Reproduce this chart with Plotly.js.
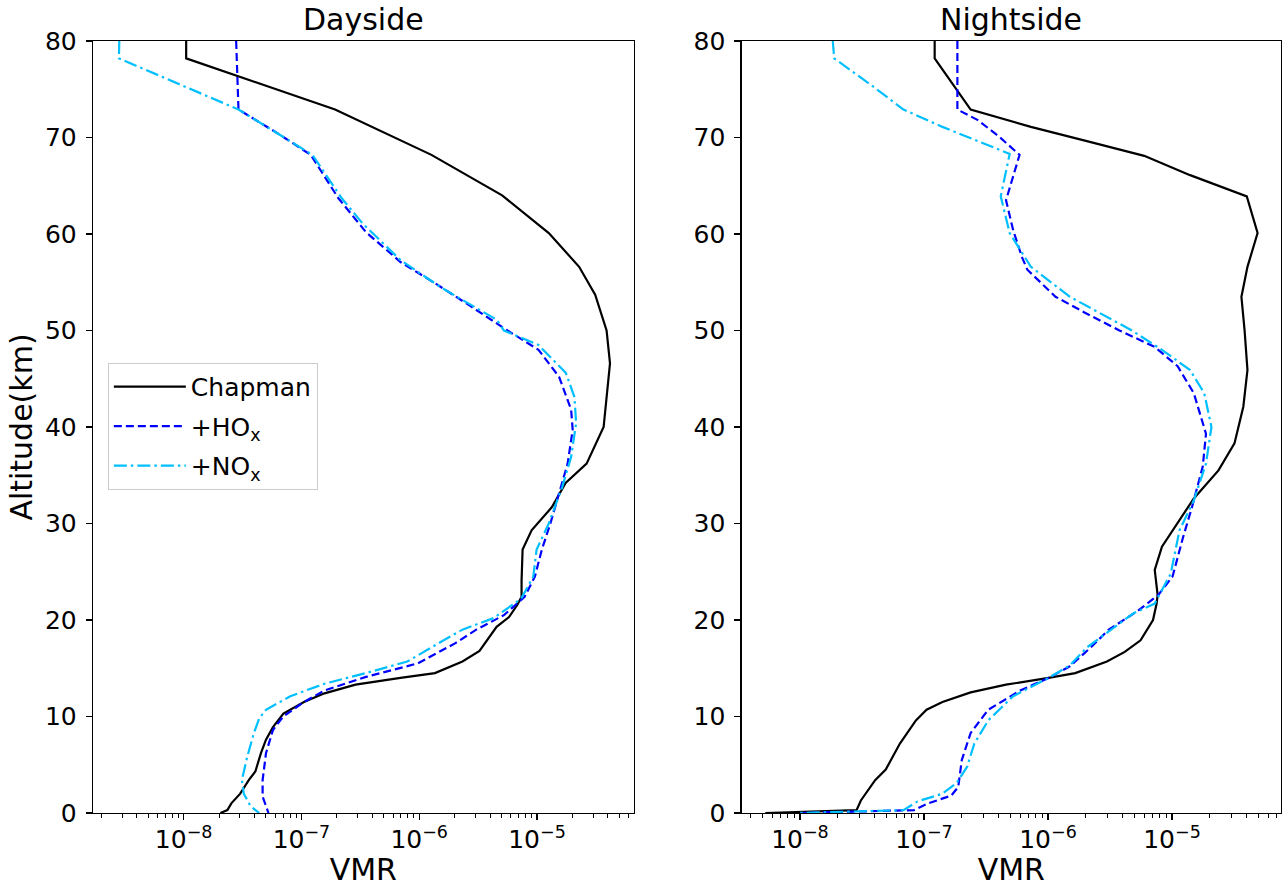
<!DOCTYPE html>
<html>
<head>
<meta charset="utf-8">
<script src="https://cdn.plot.ly/plotly-3.0.1.min.js"></script>
<style>html,body{margin:0;padding:0;background:#fff;}#chart{width:1288px;height:887px;}</style>
</head>
<body>
<div id="chart"></div>
<script>
// ---------------- Dayside ----------------
var dayChapAlt = [80, 78.2, 72.9, 68.2, 64.0, 60.1, 56.6, 53.7, 50.0, 46.6, 40.0, 36.2, 34.2, 31.7, 29.3, 27.3, 24.1, 22.4, 21.6, 20.3, 19.3, 18.1, 16.8, 15.7, 14.5, 14.0, 13.3, 12.4, 11.5, 10.3, 8.9, 7.6, 6.2, 4.3, 3.4, 2.0, 1.0, 0.3, 0.0];
var dayChapVmr = [1.05e-8, 1.05e-8, 1.93e-7, 1.27e-6, 5.06e-6, 1.26e-5, 2.28e-5, 3.12e-5, 3.90e-5, 4.17e-5, 3.68e-5, 2.64e-5, 1.75e-5, 1.34e-5, 9.0e-6, 7.55e-6, 7.4e-6, 7.4e-6, 6.84e-6, 5.79e-6, 4.54e-6, 3.86e-6, 3.25e-6, 2.33e-6, 1.36e-6, 6.93e-7, 2.88e-7, 1.57e-7, 1.05e-7, 7.03e-8, 5.73e-8, 5.0e-8, 4.53e-8, 4.06e-8, 3.57e-8, 3.02e-8, 2.54e-8, 2.35e-8, 2.05e-8];

var dayHoxAlt = [80, 72.9, 70.4, 68.2, 63.7, 60.2, 57.1, 54.9, 52.6, 50.0, 48.0, 45.2, 41.8, 39.7, 36.2, 33.1, 30.0, 27.3, 24.5, 22.4, 20.5, 19.0, 17.6, 15.5, 14.1, 12.7, 11.5, 10.0, 8.6, 6.2, 3.4, 1.7, 0.8, 0.0];
var dayHoxVmr = [2.79e-8, 2.92e-8, 6.34e-8, 1.20e-7, 2.06e-7, 3.53e-7, 6.93e-7, 1.36e-6, 2.67e-6, 5.62e-6, 1.03e-5, 1.54e-5, 1.95e-5, 2.01e-5, 1.82e-5, 1.54e-5, 1.30e-5, 1.10e-5, 9.6e-6, 7.85e-6, 5.24e-6, 3.05e-6, 2.03e-6, 9.7e-7, 3.53e-7, 1.57e-7, 1.05e-7, 7.0e-8, 5.73e-8, 5.0e-8, 4.68e-8, 4.68e-8, 5.0e-8, 5.25e-8];

var dayNoxAlt = [80, 78.2, 72.9, 70.4, 68.2, 63.7, 61.1, 57.3, 54.4, 51.1, 50.0, 48.5, 45.6, 43.1, 40.4, 36.9, 33.8, 30.0, 27.3, 24.5, 22.2, 20.2, 19.0, 17.8, 15.7, 14.5, 13.4, 12.1, 10.7, 9.8, 8.3, 5.8, 3.4, 2.0, 0.7, 0.0];
var dayNoxVmr = [2.84e-9, 2.82e-9, 2.92e-8, 6.34e-8, 1.24e-7, 2.20e-7, 3.30e-7, 6.93e-7, 1.56e-6, 4.57e-6, 5.24e-6, 1.03e-5, 1.76e-5, 2.08e-5, 2.15e-5, 1.95e-5, 1.64e-5, 1.26e-5, 9.93e-6, 9.3e-6, 7.33e-6, 4.28e-6, 2.33e-6, 1.56e-6, 7.93e-7, 3.53e-7, 1.57e-7, 8.04e-8, 5.0e-8, 4.38e-8, 3.95e-8, 3.46e-8, 3.12e-8, 3.24e-8, 3.70e-8, 4.38e-8];

// ---------------- Nightside ----------------
var nightChapAlt = [80, 78.2, 72.9, 71.1, 69.7, 68.1, 66.1, 63.9, 60.1, 56.6, 53.5, 50.0, 45.9, 42.1, 38.3, 35.5, 32.6, 30.4, 27.6, 25.2, 22.6, 21.7, 20.0, 17.9, 16.7, 15.7, 14.5, 14.0, 13.3, 12.5, 11.5, 10.7, 9.6, 7.2, 4.5, 3.4, 1.3, 0.3, 0.0];
var nightChapVmr = [1.22e-7, 1.22e-7, 2.38e-7, 7.28e-7, 1.95e-6, 5.97e-6, 1.40e-5, 4.01e-5, 4.90e-5, 4.06e-5, 3.63e-5, 3.85e-5, 4.06e-5, 3.76e-5, 3.19e-5, 2.37e-5, 1.50e-5, 1.15e-5, 8.3e-6, 7.26e-6, 7.66e-6, 7.52e-6, 7.03e-6, 5.58e-6, 4.16e-6, 2.99e-6, 1.66e-6, 1.01e-6, 4.59e-7, 2.38e-7, 1.41e-7, 1.05e-7, 8.61e-8, 6.40e-8, 4.92e-8, 4.04e-8, 3.10e-8, 2.86e-8, 5.26e-9];

var nightHoxAlt = [80, 72.9, 71.8, 70.1, 68.2, 63.5, 60.4, 57.6, 56.3, 53.5, 51.9, 50.0, 48.3, 46.3, 43.5, 39.3, 35.9, 31.7, 28.6, 24.5, 22.6, 20.9, 19.0, 17.2, 15.2, 14.0, 12.7, 10.7, 8.3, 5.5, 2.7, 1.8, 1.0, 0.3, 0.0];
var nightHoxVmr = [1.86e-7, 1.86e-7, 2.72e-7, 4.03e-7, 5.90e-7, 4.59e-7, 5.24e-7, 6.17e-7, 6.82e-7, 1.15e-6, 1.95e-6, 3.77e-6, 7.26e-6, 1.11e-5, 1.50e-5, 1.88e-5, 1.77e-5, 1.45e-5, 1.23e-5, 1.01e-5, 7.76e-6, 5.24e-6, 3.09e-6, 2.23e-6, 1.50e-6, 1.01e-6, 5.98e-7, 3.30e-7, 2.38e-7, 2.02e-7, 1.89e-7, 1.66e-7, 1.08e-7, 8.32e-8, 1.0e-8];

var nightNoxAlt = [80, 78.2, 75.4, 72.9, 71.1, 69.6, 68.3, 63.9, 60.1, 56.6, 53.5, 50.0, 48.0, 45.9, 43.5, 40.0, 36.2, 32.4, 29.3, 24.8, 21.7, 20.7, 18.6, 17.2, 15.3, 14.0, 12.1, 9.6, 7.2, 4.8, 3.1, 2.0, 1.2, 0.3, 0.0];
var nightNoxVmr = [1.84e-8, 1.89e-8, 3.78e-8, 6.84e-8, 1.41e-7, 2.72e-7, 4.91e-7, 4.16e-7, 4.91e-7, 7.28e-7, 1.50e-6, 4.75e-6, 8.30e-6, 1.40e-5, 1.82e-5, 2.08e-5, 1.88e-5, 1.50e-5, 1.15e-5, 9.77e-6, 7.26e-6, 4.90e-6, 2.89e-6, 2.08e-6, 1.50e-6, 1.01e-6, 5.24e-7, 3.30e-7, 2.55e-7, 2.23e-7, 1.83e-7, 1.41e-7, 8.87e-8, 6.84e-8, 9.8e-9];

// ---------------- Axis ticks / labels ----------------
var xTickVals = [1e-8, 1e-7, 1e-6, 1e-5];
var xTickText = ['10<sup>\u22128</sup>', '10<sup>\u22127</sup>', '10<sup>\u22126</sup>', '10<sup>\u22125</sup>'];
var yTickVals = [0, 10, 20, 30, 40, 50, 60, 70, 80];
var seriesNames = ['Chapman', '+HO<sub>x</sub>', '+NO<sub>x</sub>'];
var panelTitles = ['Dayside', 'Nightside'];

var minorVals = [];
for (var e = -9; e <= -4; e++) {
  for (var m = 2; m <= 9; m++) minorVals.push(m * Math.pow(10, e));
}

var FONT = 'DejaVu Sans, sans-serif';
var styles = [
  {color: '#000000', width: 2.2, dash: 'solid'},
  {color: '#0000ff', width: 2.2, dash: '8px,4px'},
  {color: '#00bfff', width: 2.2, dash: '13px,4px,2.5px,4px'}
];

function tr(x, y, i, xa, ya, show) {
  return {
    x: x, y: y, type: 'scatter', mode: 'lines', name: seriesNames[i],
    line: {color: styles[i].color, width: styles[i].width, dash: styles[i].dash},
    xaxis: xa, yaxis: ya, showlegend: show, legendgroup: 'g' + i, hoverinfo: 'skip'
  };
}

var data = [
  tr(dayChapVmr, dayChapAlt, 0, 'x', 'y', true),
  tr(dayHoxVmr, dayHoxAlt, 1, 'x', 'y', true),
  tr(dayNoxVmr, dayNoxAlt, 2, 'x', 'y', true),
  tr(nightChapVmr, nightChapAlt, 0, 'x2', 'y2', false),
  tr(nightHoxVmr, nightHoxAlt, 1, 'x2', 'y2', false),
  tr(nightNoxVmr, nightNoxAlt, 2, 'x2', 'y2', false)
];

function xax(domain, range, anchor) {
  return {
    type: 'log', domain: domain, range: range, anchor: anchor,
    tickmode: 'array', tickvals: xTickVals, ticktext: xTickText,
    ticks: 'outside', ticklen: 6, tickwidth: 1.2, tickcolor: '#000',
    minor: {tickmode: 'array', tickvals: minorVals, ticks: 'outside', ticklen: 3.5, tickwidth: 1, tickcolor: '#000', showgrid: false},
    showline: true, mirror: true, linecolor: '#000', linewidth: 1.3,
    showgrid: false, zeroline: false,
    tickfont: {family: FONT, size: 25, color: '#000'},
    ticklabelstandoff: -2,
    title: {text: 'VMR', font: {family: FONT, size: 30, color: '#000'}, standoff: 9}
  };
}
function yax(anchor, withTitle) {
  var a = {
    range: [0, 80], anchor: anchor, domain: [0, 1],
    tickmode: 'array', tickvals: yTickVals,
    ticks: 'outside', ticklen: 6, tickwidth: 1.2, tickcolor: '#000',
    showline: true, mirror: true, linecolor: '#000', linewidth: 1.3,
    showgrid: false, zeroline: false,
    tickfont: {family: FONT, size: 25, color: '#000'},
    ticklabelstandoff: 4
  };
  if (withTitle) a.title = {text: 'Altitude(km)', font: {family: FONT, size: 30, color: '#000'}, standoff: 3};
  return a;
}

var layout = {
  width: 1288, height: 887,
  margin: {l: 93, r: 7, t: 41, b: 74},
  paper_bgcolor: '#fff', plot_bgcolor: '#fff',
  font: {family: FONT, color: '#000'},
  xaxis: xax([0, 0.4551], [-8.770, -4.179], 'y'),
  xaxis2: xax([0.546, 1], [-8.470, -4.121], 'y2'),
  yaxis: yax('x', true),
  yaxis2: yax('x2', false),
  showlegend: true,
  legend: {
    x: 0.0125, y: 0.583, xanchor: 'left', yanchor: 'top',
    bgcolor: 'rgba(255,255,255,0.8)', bordercolor: '#cccccc', borderwidth: 1,
    font: {family: FONT, size: 25, color: '#000'},
    traceorder: 'grouped', tracegroupgap: 4, itemwidth: 72
  },
  annotations: [
    {text: panelTitles[0], xref: 'paper', yref: 'paper', x: 0.2275, y: 1, yanchor: 'bottom', xanchor: 'center', yshift: 2, showarrow: false, font: {family: FONT, size: 30, color: '#000'}},
    {text: panelTitles[1], xref: 'paper', yref: 'paper', x: 0.773, y: 1, yanchor: 'bottom', xanchor: 'center', yshift: 2, showarrow: false, font: {family: FONT, size: 30, color: '#000'}}
  ]
};

Plotly.newPlot('chart', data, layout, {displayModeBar: false, staticPlot: true});
</script>
</body>
</html>
